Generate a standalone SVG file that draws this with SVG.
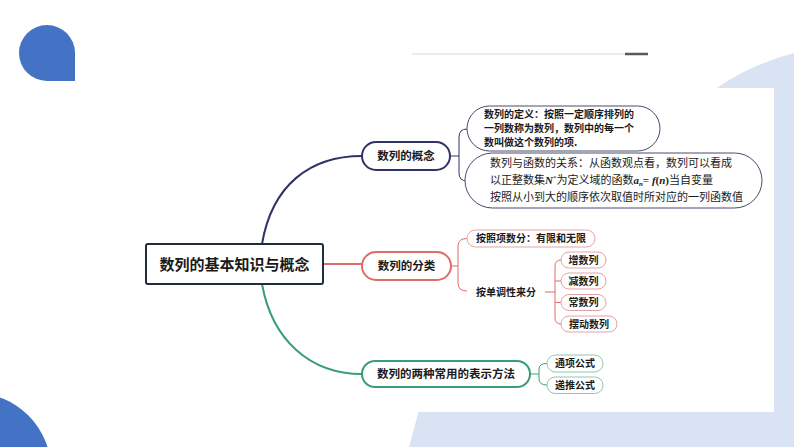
<svg xmlns="http://www.w3.org/2000/svg" width="794" height="447" viewBox="0 0 794 447">
<style>
.t{font-family:"Noto Sans CJK SC","Noto Sans",sans-serif;fill:#1a1a1a;font-weight:700}
.s{font-family:"Liberation Serif","Noto Sans CJK SC",serif;fill:#1a1a1a;font-size:11px}
.nav{fill:#fff;stroke:#2f3368;stroke-width:2}
.red{fill:#fff;stroke:#e06b6b;stroke-width:2}
.grn{fill:#fff;stroke:#3a9e75;stroke-width:2}
.navc{fill:#fff;stroke:#4a4a6a;stroke-width:1}
.redc{fill:#fff;stroke:#e3a3a3;stroke-width:1}
.grnc{fill:#fff;stroke:#8fc7ae;stroke-width:1}
</style>
<rect width="794" height="447" fill="#fff"/>
<!-- background decoration -->
<path d="M717,88 Q752,64 794,53 L794,447 L409,447 L430,370 Z" fill="#dae3f3"/>
<rect x="300" y="88" width="474" height="324" fill="#fff"/>
<path d="M75,81 L47,81 A28,28 0 0 1 19,53 A28,28 0 0 1 47,25 A28,28 0 0 1 75,53 Z" fill="#4472c4"/>
<circle cx="-26" cy="470" r="77" fill="#4472c4"/>
<line x1="412" y1="54" x2="648" y2="54" stroke="#d9d9d9" stroke-width="1"/>
<line x1="625" y1="54" x2="648" y2="54" stroke="#595959" stroke-width="2.5"/>

<g id="connectors" fill="none">
  <path d="M262,244 C272,185 310,156 362,156" stroke="#2f3368" stroke-width="2"/>
  <path d="M323,264 H362" stroke="#e06b6b" stroke-width="2"/>
  <path d="M262,284 C272,340 310,374 362,374" stroke="#3a9e75" stroke-width="2"/>
  <path d="M450,156 H459 M467,129 Q459,129 459,137 V173 Q459,181 467,181" stroke="#2f3368" stroke-width="1"/>
  <path d="M451,266 H458 M467,238.5 Q458,238.5 458,246 V283 Q458,291 467,291" stroke="#e06b6b" stroke-width="1"/>
  <path d="M545,292 H555 M561,260 Q555,260 555,266 V318 Q555,324 561,324 M555,281 H561 M555,302.5 H561" stroke="#e06b6b" stroke-width="1"/>
  <path d="M530,374 H539 M547,363.5 Q539,363.5 539,369 V379 Q539,385 547,385" stroke="#3a9e75" stroke-width="1"/>
</g>

<g id="root">
  <rect x="146" y="244" width="177" height="40" rx="2" fill="#fff" stroke="#1f2d3d" stroke-width="2"/>
  <text class="t" x="234.5" y="269.5" font-size="15" text-anchor="middle">数列的基本知识与概念</text>
</g>

<g id="n1">
  <rect class="nav" x="362" y="142" width="88" height="28" rx="14"/>
  <text class="t" x="406" y="160" font-size="11.5" text-anchor="middle">数列的概念</text>
</g>
<g id="n1a">
  <rect class="navc" x="467" y="106" width="193" height="45" rx="22.5"/>
  <text class="t" font-size="10" x="484" y="118">数列的定义：按照一定顺序排列的</text>
  <text class="t" font-size="10" x="484" y="132">一列数称为数列，数列中的每一个</text>
  <text class="t" font-size="10" x="484" y="146">数叫做这个数列的项.</text>
</g>
<g id="n1b">
  <rect class="navc" x="465" y="153" width="297" height="55" rx="27.5"/>
  <text class="s" x="490" y="167">数列与函数的关系：从函数观点看，数列可以看成</text>
  <text class="s" x="490" y="184">以正整数集<tspan font-weight="700" font-style="italic">N</tspan><tspan font-size="7" dy="-4">*</tspan><tspan dy="4">为定义域的函数</tspan><tspan font-weight="700" font-style="italic">a</tspan><tspan font-size="7" font-weight="700" font-style="italic" dy="2">n</tspan><tspan dy="-2" font-weight="700">= </tspan><tspan font-weight="700" font-style="italic">f</tspan><tspan font-weight="700">(</tspan><tspan font-weight="700" font-style="italic">n</tspan><tspan font-weight="700">)</tspan>当自变量</text>
  <text class="s" x="490" y="201">按照从小到大的顺序依次取值时所对应的一列函数值</text>
</g>

<g id="n2">
  <rect class="red" x="362" y="252" width="89" height="28" rx="14"/>
  <text class="t" x="406.5" y="270" font-size="11.5" text-anchor="middle">数列的分类</text>
</g>
<g id="n2a">
  <rect class="redc" x="467" y="230" width="128" height="17" rx="8.5"/>
  <text class="t" x="476" y="242" font-size="10">按照项数分：有限和无限</text>
</g>
<g id="n2b">
  <text class="t" x="476" y="296" font-size="10">按单调性来分</text>
</g>
<g id="n2b1">
  <rect class="redc" x="561" y="252" width="45" height="16" rx="8"/>
  <text class="t" x="583.5" y="263.5" font-size="10" text-anchor="middle">增数列</text>
</g>
<g id="n2b2">
  <rect class="redc" x="561" y="273" width="45" height="16" rx="8"/>
  <text class="t" x="583.5" y="284.5" font-size="10" text-anchor="middle">减数列</text>
</g>
<g id="n2b3">
  <rect class="redc" x="561" y="294.5" width="45" height="16" rx="8"/>
  <text class="t" x="583.5" y="306" font-size="10" text-anchor="middle">常数列</text>
</g>
<g id="n2b4">
  <rect class="redc" x="561" y="316" width="56" height="16" rx="8"/>
  <text class="t" x="589" y="327.5" font-size="10" text-anchor="middle">摆动数列</text>
</g>

<g id="n3">
  <rect class="grn" x="362" y="361" width="168" height="26" rx="13"/>
  <text class="t" x="446" y="378" font-size="11.5" text-anchor="middle">数列的两种常用的表示方法</text>
</g>
<g id="n3a">
  <rect class="grnc" x="547" y="355" width="56" height="17" rx="8.5"/>
  <text class="t" x="575" y="367" font-size="10" text-anchor="middle">通项公式</text>
</g>
<g id="n3b">
  <rect class="grnc" x="547" y="377" width="56" height="16.5" rx="8.25"/>
  <text class="t" x="575" y="389" font-size="10" text-anchor="middle">递推公式</text>
</g>
</svg>
